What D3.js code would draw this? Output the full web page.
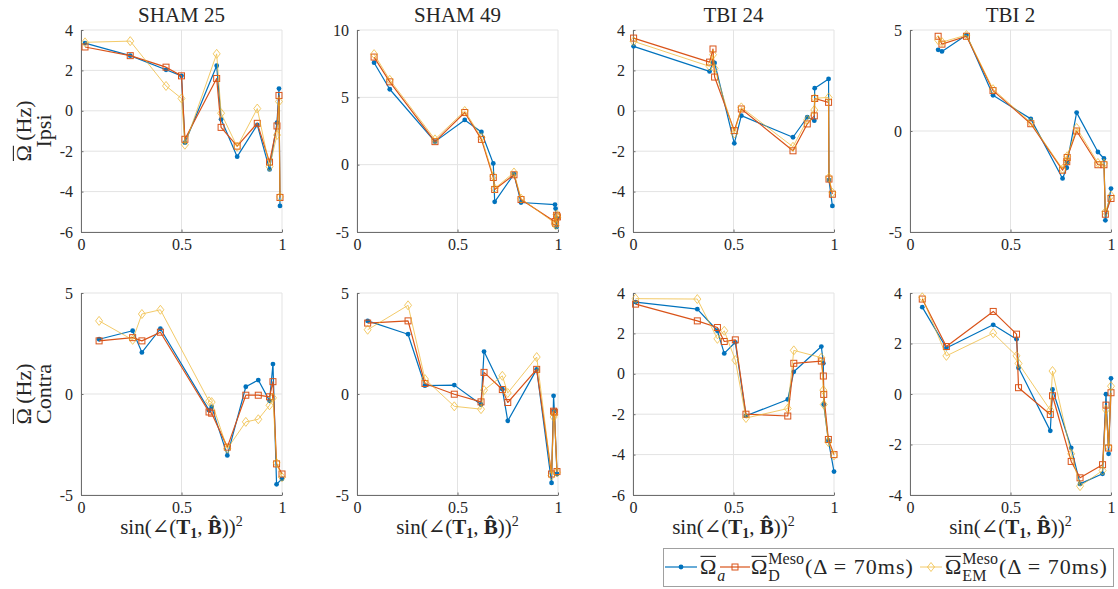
<!DOCTYPE html>
<html>
<head>
<meta charset="utf-8">
<script src="https://cdn.jsdelivr.net/npm/d3@7"></script>
<style>
  body { margin: 0; background: #fff; }
  svg { display: block; }
  text { font-family: "Liberation Serif", "DejaVu Serif", serif; fill: #262626; }
</style>
</head>
<body>
<svg id="chart" width="1118" height="589"></svg>
<script>
// ---------- data ----------
const colTitles = ["SHAM 25", "SHAM 49", "TBI 24", "TBI 2"];
const rowLabels = ["Ipsi", "Contra"];
const xTicks = [0, 0.5, 1];
const xTickLabels = ["0", "0.5", "1"];
const seriesNames = ["a", "D", "EM"];

// y axis ticks (per panel)
const yTicksSham25Ipsi = [-6, -4, -2, 0, 2, 4];
const yTicksSham49Ipsi = [-5, 0, 5, 10];
const yTicksTbi24Ipsi = [-6, -4, -2, 0, 2, 4];
const yTicksTbi2Ipsi = [-5, 0, 5];
const yTicksSham25Contra = [-5, 0, 5];
const yTicksSham49Contra = [-5, 0, 5];
const yTicksTbi24Contra = [-6, -4, -2, 0, 2, 4];
const yTicksTbi2Contra = [-4, -2, 0, 2, 4];

// SHAM 25, ipsilateral
const sham25IpsiX  = [0.02, 0.245, 0.423, 0.50, 0.517, 0.675, 0.697, 0.777, 0.877, 0.938, 0.975, 0.985, 0.99];
const sham25IpsiA  = [3.35, 2.73, 2.03, 1.73, -1.58, 2.23, -0.42, -2.27, -0.70, -2.90, -0.59, 1.10, -4.71];
const sham25IpsiD  = [3.16, 2.73, 2.16, 1.73, -1.41, 1.60, -0.82, -1.75, -0.62, -2.54, -0.75, 0.76, -4.29];
const sham25IpsiEM = [3.39, 3.45, 1.23, 0.61, -1.68, 2.82, -0.12, -1.78, 0.11, -2.77, -1.20, 0.46, -4.26];

// SHAM 49, ipsilateral
const sham49IpsiX  = [0.085, 0.163, 0.388, 0.536, 0.619, 0.678, 0.685, 0.781, 0.816, 0.985, 0.988, 0.993, 0.997];
const sham49IpsiA  = [7.57, 5.60, 1.71, 3.32, 2.43, 0.09, -2.76, -0.70, -2.81, -2.96, -3.26, -4.62, -4.00];
const sham49IpsiD  = [7.99, 6.15, 1.71, 3.87, 1.88, -0.95, -1.84, -0.75, -2.59, -4.23, -4.35, -3.76, -3.88];
const sham49IpsiEM = [8.21, 6.30, 1.88, 3.99, 2.03, -0.85, -1.77, -0.58, -2.52, -4.35, -4.50, -3.70, -3.90];

// TBI 24, ipsilateral
const tbi24IpsiX  = [0.003, 0.381, 0.398, 0.406, 0.504, 0.539, 0.796, 0.867, 0.902, 0.904, 0.973, 0.975, 0.992];
const tbi24IpsiA  = [3.19, 1.95, 2.40, 2.37, -1.61, -0.24, -1.31, -0.32, -0.49, 1.12, 1.58, -3.43, -4.71];
const tbi24IpsiD  = [3.60, 2.41, 3.06, 1.67, -0.98, 0.09, -1.98, -0.65, -0.25, 0.61, 0.42, -3.38, -4.13];
const tbi24IpsiEM = [3.44, 2.20, 2.78, 2.10, -1.12, 0.17, -1.78, -0.45, 0.04, 0.62, 0.66, -3.30, -4.06];

// TBI 2, ipsilateral
const tbi2IpsiX  = [0.14, 0.159, 0.281, 0.413, 0.601, 0.759, 0.78, 0.782, 0.829, 0.935, 0.965, 0.972, 1.0];
const tbi2IpsiA  = [4.02, 3.94, 4.75, 1.77, 0.60, -2.35, -1.82, -1.55, 0.91, -1.04, -1.36, -4.42, -2.85];
const tbi2IpsiD  = [4.69, 4.30, 4.69, 2.00, 0.36, -1.94, -1.52, -1.31, 0.00, -1.67, -1.67, -4.12, -3.34];
const tbi2IpsiEM = [4.50, 4.40, 4.75, 2.07, 0.42, -1.88, -1.45, -1.25, 0.15, -1.58, -1.60, -4.00, -3.20];

// SHAM 25, contralateral
const sham25ContraX  = [0.09, 0.257, 0.303, 0.395, 0.637, 0.65, 0.728, 0.82, 0.882, 0.938, 0.955, 0.973, 1.0];
const sham25ContraA  = [2.71, 3.13, 2.06, 3.23, -0.80, -0.64, -3.04, 0.36, 0.69, -0.34, 1.48, -4.47, -4.20];
const sham25ContraD  = [2.63, 2.79, 2.63, 3.06, -0.89, -0.95, -2.63, -0.06, -0.06, -0.14, 0.61, -3.46, -3.96];
const sham25ContraEM = [3.62, 2.68, 3.96, 4.17, -0.36, -0.40, -2.71, -1.38, -1.25, -0.56, -0.19, -3.41, -4.12];

// SHAM 49, contralateral
const sham49ContraX  = [0.053, 0.254, 0.338, 0.484, 0.617, 0.632, 0.723, 0.750, 0.894, 0.968, 0.978, 0.982, 0.995];
const sham49ContraA  = [3.62, 2.96, 0.41, 0.44, -0.52, 2.10, 0.24, -1.33, 1.22, -4.40, -0.09, -0.84, -3.96];
const sham49ContraD  = [3.51, 3.62, 0.52, -0.01, -0.39, 1.07, 0.22, -0.42, 1.22, -3.96, -0.85, -0.90, -3.84];
const sham49ContraEM = [3.18, 4.39, 0.74, -0.61, -0.75, 0.19, 0.90, 0.05, 1.83, -4.04, -1.14, -1.00, -3.88];

// TBI 24, contralateral
const tbi24ContraX  = [0.013, 0.32, 0.42, 0.454, 0.509, 0.562, 0.770, 0.80, 0.937, 0.947, 0.949, 0.972, 1.0];
const tbi24ContraA  = [3.55, 3.20, 2.13, 1.01, 1.56, -2.08, -1.27, 0.10, 1.35, 0.52, -1.52, -3.30, -4.84];
const tbi24ContraD  = [3.45, 2.62, 2.29, 1.60, 1.68, -2.00, -2.09, 0.52, 0.63, -0.11, -1.02, -3.25, -4.00];
const tbi24ContraEM = [3.72, 3.70, 1.73, 2.13, 0.68, -2.19, -1.72, 1.16, 0.80, -0.81, -1.52, -3.38, -4.04];

// TBI 2, contralateral
const tbi2ContraX  = [0.061, 0.181, 0.414, 0.53, 0.54, 0.698, 0.709, 0.802, 0.846, 0.958, 0.975, 0.988, 1.0];
const tbi2ContraA  = [3.44, 1.82, 2.74, 2.17, 1.04, -1.46, 0.18, -2.13, -3.56, -3.16, -0.01, -2.37, 0.62];
const tbi2ContraD  = [3.76, 1.88, 3.27, 2.37, 0.25, -0.81, -0.07, -2.67, -3.32, -2.80, -0.44, -2.14, 0.05];
const tbi2ContraEM = [3.83, 1.51, 2.41, 1.51, 1.21, -0.64, 0.91, -2.37, -3.65, -3.03, -0.62, -2.10, 0.31];

// ---------- panel table ----------
const panels = [
  { row: 0, col: 0, x: sham25IpsiX, ys: [sham25IpsiA, sham25IpsiD, sham25IpsiEM], ticks: yTicksSham25Ipsi },
  { row: 0, col: 1, x: sham49IpsiX, ys: [sham49IpsiA, sham49IpsiD, sham49IpsiEM], ticks: yTicksSham49Ipsi },
  { row: 0, col: 2, x: tbi24IpsiX, ys: [tbi24IpsiA, tbi24IpsiD, tbi24IpsiEM], ticks: yTicksTbi24Ipsi },
  { row: 0, col: 3, x: tbi2IpsiX, ys: [tbi2IpsiA, tbi2IpsiD, tbi2IpsiEM], ticks: yTicksTbi2Ipsi },
  { row: 1, col: 0, x: sham25ContraX, ys: [sham25ContraA, sham25ContraD, sham25ContraEM], ticks: yTicksSham25Contra },
  { row: 1, col: 1, x: sham49ContraX, ys: [sham49ContraA, sham49ContraD, sham49ContraEM], ticks: yTicksSham49Contra },
  { row: 1, col: 2, x: tbi24ContraX, ys: [tbi24ContraA, tbi24ContraD, tbi24ContraEM], ticks: yTicksTbi24Contra },
  { row: 1, col: 3, x: tbi2ContraX, ys: [tbi2ContraA, tbi2ContraD, tbi2ContraEM], ticks: yTicksTbi2Contra }
];

// ---------- layout & style ----------
const colLeft = [81, 357, 633, 910];
const rowTop = [30, 293];
const plotW = 201, plotH = 202;
const colors = ["#0072BD", "#D95319", "#EDB120"];
const lineWidths = [1.2, 1.2, 0.9];
const lineOpacity = [1, 1, 0.75];
const gridColor = "#e3e3e3";
const axisColor = "#6e6e6e";
const tickFont = 16;

const svg = d3.select("#chart");

// overlined Omega with optional sub/superscripts; returns end x
function omegaBar(g, x, y, size, sub, sup, subItalic, scriptSize) {
  const om = g.append("text").attr("x", x).attr("y", y).attr("font-size", size).text("Ω");
  const w = om.node().getComputedTextLength();
  g.append("line")
    .attr("x1", x + 0.5).attr("x2", x + w - 0.5)
    .attr("y1", y - size * 0.8).attr("y2", y - size * 0.8)
    .attr("stroke", "#262626").attr("stroke-width", Math.max(1, size * 0.05));
  const ss = scriptSize || size * 0.7;
  let sw = 0;
  if (sup) {
    const t = g.append("text").attr("x", x + w + 1).attr("y", y - size * 0.45)
      .attr("font-size", ss).text(sup);
    sw = Math.max(sw, t.node().getComputedTextLength() + 1);
  }
  if (sub) {
    const t = g.append("text").attr("x", x + w + 1).attr("y", y + size * 0.3)
      .attr("font-size", ss).attr("font-style", subItalic ? "italic" : "normal").text(sub);
    sw = Math.max(sw, t.node().getComputedTextLength() + 1);
  }
  return x + w + sw;
}

panels.forEach(p => {
  const g = svg.append("g").attr("transform", `translate(${colLeft[p.col]},${rowTop[p.row]})`);
  const x = d3.scaleLinear().domain([0, 1]).range([0, plotW]);
  const y = d3.scaleLinear().domain(d3.extent(p.ticks)).range([plotH, 0]);

  // grid
  g.append("g").selectAll("line").data(xTicks).join("line")
    .attr("x1", d => x(d)).attr("x2", d => x(d)).attr("y1", 0).attr("y2", plotH)
    .attr("stroke", gridColor).attr("stroke-width", 1);
  g.append("g").selectAll("line").data(p.ticks).join("line")
    .attr("x1", 0).attr("x2", plotW).attr("y1", d => y(d)).attr("y2", d => y(d))
    .attr("stroke", gridColor).attr("stroke-width", 1);

  // axes
  const xa = g.append("g").attr("transform", `translate(0,${plotH})`)
    .call(d3.axisBottom(x).tickValues(xTicks).tickFormat((d, i) => xTickLabels[i])
      .tickSizeInner(-2.5).tickSizeOuter(0).tickPadding(7));
  const ya = g.append("g")
    .call(d3.axisLeft(y).tickValues(p.ticks).tickFormat(d => String(d))
      .tickSizeInner(-2.5).tickSizeOuter(0).tickPadding(8));
  [xa, ya].forEach(a => {
    a.attr("font-family", null).attr("font-size", null);
    a.select(".domain").attr("stroke", axisColor).attr("stroke-width", 1);
    a.selectAll(".tick line").attr("stroke", axisColor);
    a.selectAll(".tick text").attr("font-size", tickFont).attr("fill", "#262626");
  });

  // series
  p.ys.forEach((vals, si) => {
    const pts = p.x.map((xv, i) => [xv, vals[i]]);
    const line = d3.line().x(d => x(d[0])).y(d => y(d[1]));
    const sg = g.append("g").attr("opacity", lineOpacity[si]);
    sg.append("path").attr("d", line(pts)).attr("fill", "none")
      .attr("stroke", colors[si]).attr("stroke-width", lineWidths[si]).attr("stroke-linejoin", "round");
    if (si === 0) {
      sg.selectAll("circle").data(pts).join("circle")
        .attr("cx", d => x(d[0])).attr("cy", d => y(d[1])).attr("r", 2.4).attr("fill", colors[si]);
    } else if (si === 1) {
      sg.selectAll("rect").data(pts).join("rect")
        .attr("x", d => x(d[0]) - 3).attr("y", d => y(d[1]) - 3).attr("width", 6).attr("height", 6)
        .attr("fill", "none").attr("stroke", colors[si]).attr("stroke-width", 1);
    } else {
      sg.selectAll("path.dm").data(pts).join("path").attr("class", "dm")
        .attr("d", d => `M${x(d[0])},${y(d[1]) - 4.5}L${x(d[0]) + 3.5},${y(d[1])}L${x(d[0])},${y(d[1]) + 4.5}L${x(d[0]) - 3.5},${y(d[1])}Z`)
        .attr("fill", "none").attr("stroke", colors[si]).attr("stroke-width", 0.9);
    }
  });

  // column titles
  if (p.row === 0) {
    svg.append("text").attr("x", colLeft[p.col] + plotW / 2).attr("y", 22)
      .attr("text-anchor", "middle").attr("font-size", 21).text(colTitles[p.col]);
  }

  // x labels
  if (p.row === 1) {
    const t = svg.append("text").attr("x", colLeft[p.col] + plotW / 2).attr("y", 534)
      .attr("text-anchor", "middle").attr("font-size", 21);
    const parts = [
      { t: "sin(\u2220(" },
      { t: "T", b: true },
      { t: "1", b: true, s: 14, dy: 4 },
      { t: ", ", dy: -4 },
      { t: "B\u0302", b: true },
      { t: "))" },
      { t: "2", s: 14, dy: -8 }
    ];
    parts.forEach(q => {
      const ts = t.append("tspan").text(q.t);
      if (q.b) ts.attr("font-weight", "bold");
      if (q.s) ts.attr("font-size", q.s);
      if (q.dy) ts.attr("dy", q.dy);
    });
  }
});

// row labels (y axis titles)
rowLabels.forEach((lab, r) => {
  const cy = rowTop[r] + plotH / 2;
  const g1 = svg.append("g").attr("transform", `translate(31,${cy}) rotate(-90)`);
  const inner = g1.append("g");
  const end = omegaBar(inner, 0, 0, 22, null, null, false);
  inner.append("text").attr("x", end).attr("y", 0).attr("font-size", 22).text("\u2009(Hz)");
  const bb = inner.node().getBBox();
  inner.attr("transform", `translate(${-bb.width / 2},0)`);
  svg.append("text").attr("transform", `translate(51,${cy}) rotate(-90)`)
    .attr("text-anchor", "middle").attr("font-size", 22).text(lab);
});

// legend
const lg = svg.append("g");
lg.append("rect").attr("x", 663.5).attr("y", 548.5).attr("width", 450).attr("height", 38)
  .attr("fill", "#fff").attr("stroke", "#a0a0a0").attr("stroke-width", 1);
const ly = 567;
const legendItems = [
  { x0: 665, x1: 697, tx: 700 },
  { x0: 720, x1: 750, tx: 751 },
  { x0: 920, x1: 942, tx: 945 }
];
legendItems.forEach((it, si) => {
  lg.append("line").attr("x1", it.x0).attr("x2", it.x1).attr("y1", ly).attr("y2", ly)
    .attr("stroke", colors[si]).attr("stroke-width", lineWidths[si]).attr("opacity", lineOpacity[si]);
  const mx = (it.x0 + it.x1) / 2;
  if (si === 0) {
    lg.append("circle").attr("cx", mx).attr("cy", ly).attr("r", 2.4).attr("fill", colors[si]);
  } else if (si === 1) {
    lg.append("rect").attr("x", mx - 3).attr("y", ly - 3).attr("width", 6).attr("height", 6)
      .attr("fill", "none").attr("stroke", colors[si]);
  } else {
    lg.append("path").attr("d", `M${mx},${ly - 4.5}L${mx + 3.5},${ly}L${mx},${ly + 4.5}L${mx - 3.5},${ly}Z`)
      .attr("fill", "none").attr("stroke", colors[si]).attr("stroke-width", 0.9).attr("opacity", lineOpacity[si]);
  }
  const base = ly + 7;
  if (si === 0) {
    omegaBar(lg, it.tx, base, 22, "a", null, true, 16);
  } else {
    const end = omegaBar(lg, it.tx, base, 22, seriesNames[si], "Meso", false, 16);
    lg.append("text").attr("x", end + 1).attr("y", base).attr("font-size", 22)
      .attr("textLength", 108).attr("lengthAdjust", "spacing").text("(\u0394 = 70ms)");
  }
});
</script>
</body>
</html>
